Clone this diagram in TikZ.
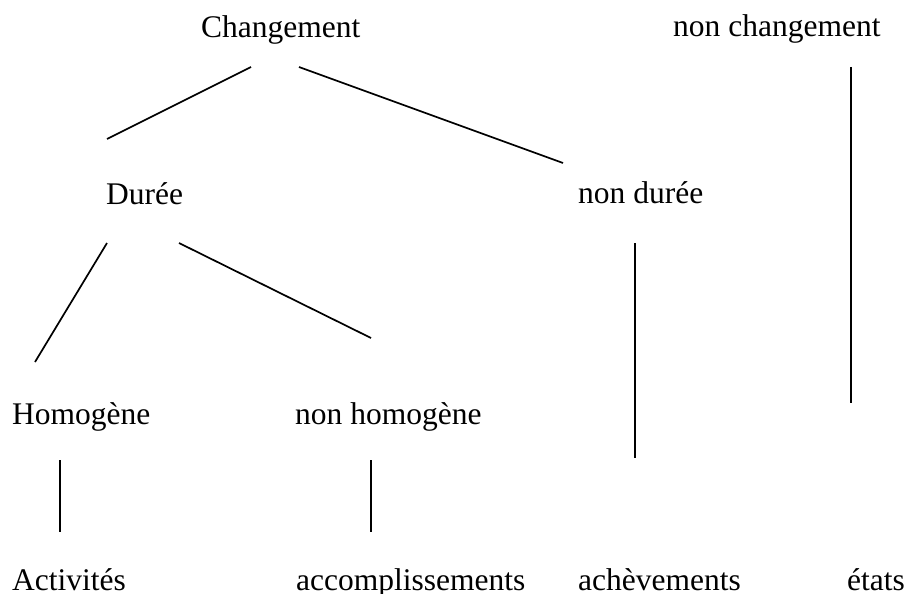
\documentclass[tikz,border=0pt]{standalone}
\usepackage{fontspec}
\setmainfont{Liberation Serif}
\begin{document}
\begin{tikzpicture}[x=1pt,y=-1pt,
  lbl/.style={anchor=base west,inner sep=0pt,font=\fontsize{31.5}{36}\selectfont},
  conn/.style={line width=1.7pt}]
\useasboundingbox (0,0) rectangle (921,594);
\node[lbl] (chg) at (201,38) {Changement};
\node[lbl] (nchg) at (673,37) {non changement};
\node[lbl] (dur) at (106,204) {Durée};
\node[lbl] (ndur) at (578,203) {non durée};
\node[lbl] (hom) at (12,424) {Homogène};
\node[lbl] (nhom) at (295,424) {non homogène};
\node[lbl] (act) at (12,590) {Activités};
\node[lbl] (acc) at (296,590) {accomplissements};
\node[lbl] (ach) at (578,590) {achèvements};
\node[lbl] (eta) at (847,590) {états};
\coordinate (a1) at (251,67); \coordinate (a2) at (107,139);
\coordinate (b1) at (299,67); \coordinate (b2) at (563,163);
\coordinate (c1) at (851,67); \coordinate (c2) at (851,403);
\coordinate (d1) at (107,243); \coordinate (d2) at (35,362);
\coordinate (e1) at (179,243); \coordinate (e2) at (371,338);
\coordinate (f1) at (635,243); \coordinate (f2) at (635,458);
\coordinate (g1) at (60,460); \coordinate (g2) at (60,532);
\coordinate (h1) at (371,460); \coordinate (h2) at (371,532);
\draw[conn] (a1) -- (a2);
\draw[conn] (b1) -- (b2);
\draw[conn] (c1) -- (c2);
\draw[conn] (d1) -- (d2);
\draw[conn] (e1) -- (e2);
\draw[conn] (f1) -- (f2);
\draw[conn] (g1) -- (g2);
\draw[conn] (h1) -- (h2);
\end{tikzpicture}
\end{document}
